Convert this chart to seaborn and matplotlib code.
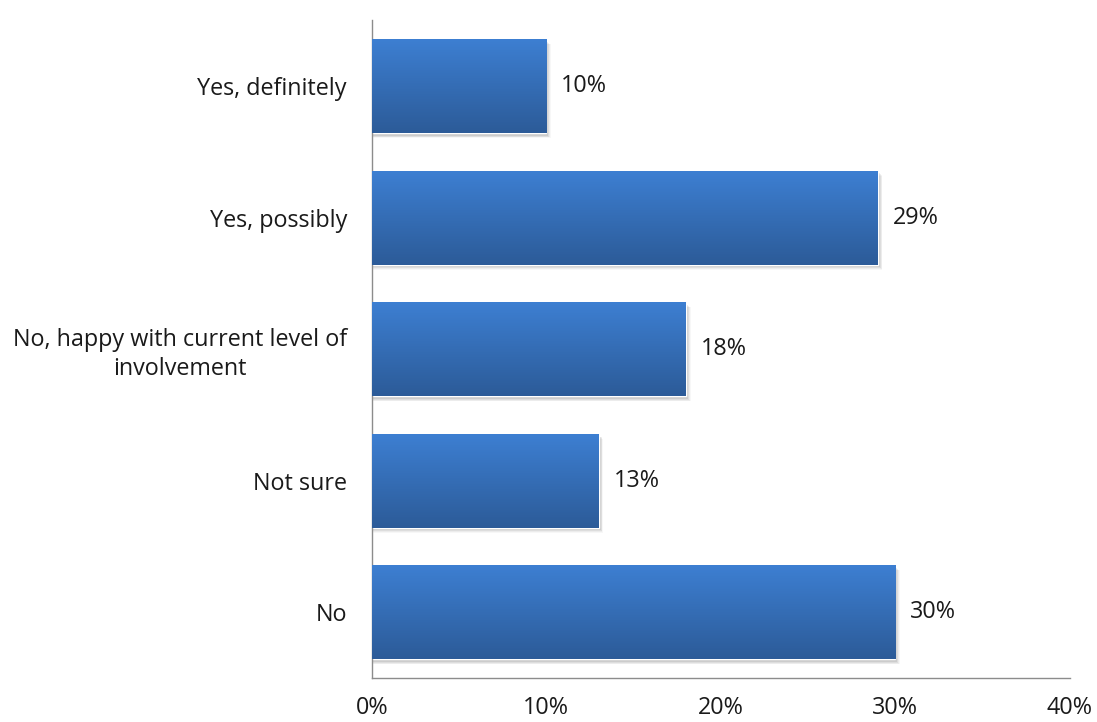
import numpy as np
import pandas as pd
import matplotlib
matplotlib.use("Agg")
import matplotlib.pyplot as plt
import seaborn as sns
from matplotlib.colors import LinearSegmentedColormap
from matplotlib.patches import Rectangle

categories = ["Yes, definitely", "Yes, possibly",
              "No, happy with current level of\ninvolvement", "Not sure", "No"]
values = [10, 29, 18, 13, 30]
value_labels = ["10%", "29%", "18%", "13%", "30%"]
xticks = [0, 10, 20, 30, 40]
xtick_labels = ["0%", "10%", "20%", "30%", "40%"]

sns.set_style("white")
plt.rcParams['font.family'] = ['Open Sans', 'DejaVu Sans']

df = pd.DataFrame({"category": categories, "value": values})

fig = plt.figure(figsize=(10.97, 7.22), dpi=100)
ax = fig.add_axes([0.339, 0.061, 0.636, 0.911])

sns.barplot(data=df, x="value", y="category", orient="h", ax=ax,
            color="#3a78c8", width=0.714, saturation=1)

cmap = LinearSegmentedColormap.from_list("g", ["#3d7fd2", "#2c5b98"])
grad = np.linspace(0, 1, 256).reshape(-1, 1)
for p in list(ax.patches):
    x0, y0 = p.get_x(), p.get_y()
    w, h = p.get_width(), p.get_height()
    # soft shadow
    for k, a in enumerate([0.08, 0.06, 0.045, 0.03]):
        dx = 0.12 + 0.05 * k
        dy = 0.012 + 0.006 * k
        sh = Rectangle((x0 + 0.02, y0 + dy + 0.01), w + dx - 0.02, h, facecolor="#000000",
                       alpha=a, edgecolor="none", zorder=1)
        ax.add_patch(sh)
    p.set_zorder(2)
    im = ax.imshow(grad, cmap=cmap, aspect="auto", extent=[x0, x0 + w, y0 + h, y0],
                   zorder=3, interpolation="bilinear")
    im.set_clip_path(p)

ax.set_xlim(0, 40)
ax.set_ylim(4.5, -0.5)

fs = 16.8
for i, (v, lab) in enumerate(zip(values, value_labels)):
    ax.text(v + 0.85, i, lab, va="center", ha="left", fontsize=fs, color="#1a1a1a")

ax.set_xticks(xticks)
ax.set_xticklabels(xtick_labels, fontsize=fs, color="#1a1a1a")
ax.set_yticks(range(len(categories)))
ax.set_yticklabels(categories, fontsize=fs, color="#1a1a1a", multialignment="center",
                   linespacing=1.3)
ax.tick_params(axis="both", length=0)
ax.tick_params(axis="x", pad=13)
ax.tick_params(axis="y", pad=18)
ax.set_xlabel("")
ax.set_ylabel("")

for s in ["top", "right"]:
    ax.spines[s].set_visible(False)
for s in ["left", "bottom"]:
    ax.spines[s].set_color("#8c8c8c")
    ax.spines[s].set_linewidth(1.0)

fig.savefig("out.png", dpi=100, facecolor="white")
